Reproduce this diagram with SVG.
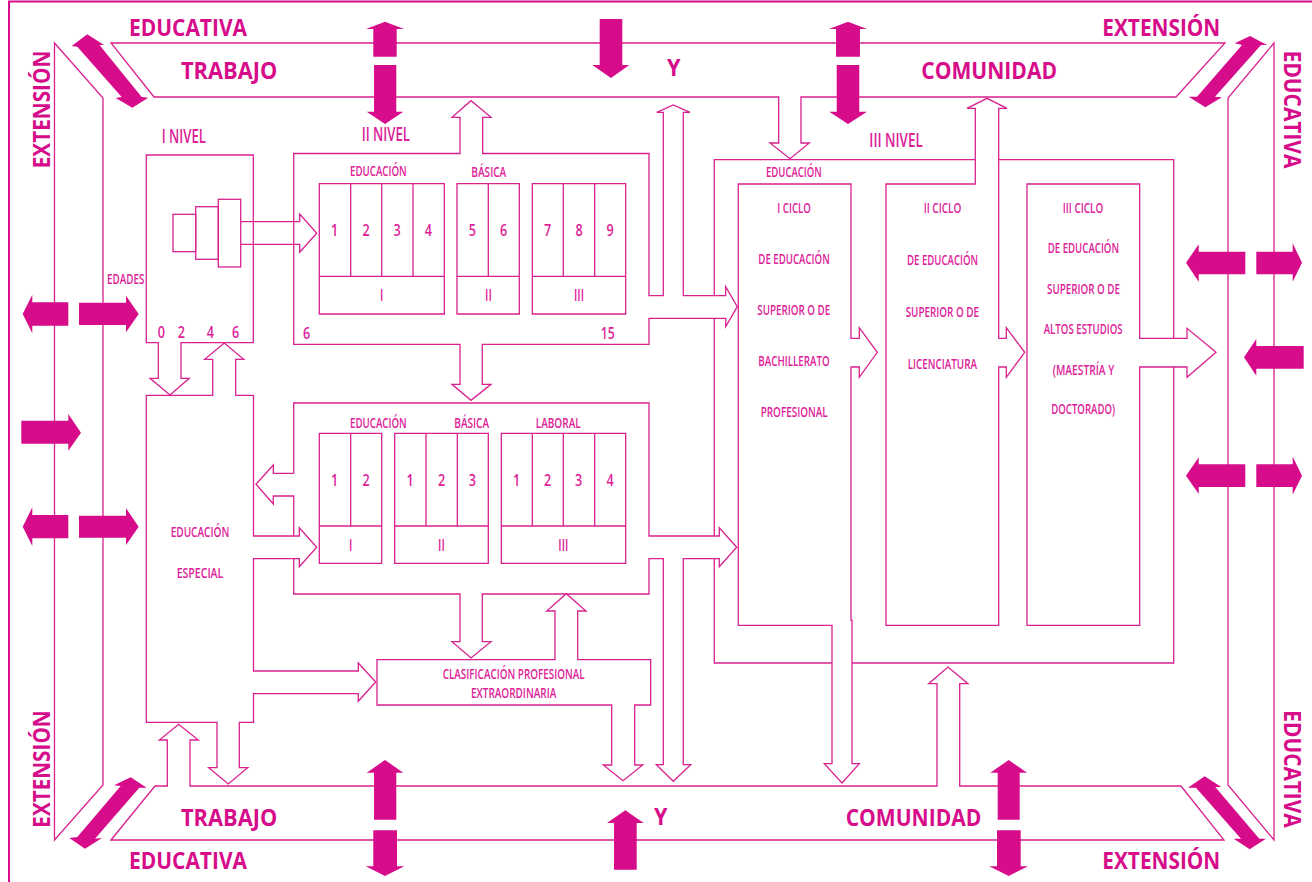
<svg xmlns="http://www.w3.org/2000/svg" width="1312" height="882" viewBox="0 0 1312 882">
<style>
.l{fill:none;stroke:#d9208f;stroke-width:1.3;stroke-linejoin:miter}
.f{fill:none;stroke:#d60c8a;stroke-width:2}
.a{fill:#d60c8a;stroke:none}
text{font-family:"Open Sans","Liberation Sans",sans-serif;fill:#dd2298}
.s{font-size:14.5px;font-weight:600}
.n{font-size:15.5px;font-weight:600}
.h{font-size:19px;font-weight:600}
.b{font-size:23px;font-weight:700;fill:#d60c8a}
</style>
<rect width="1312" height="882" fill="#fff"/>
<g id="connectors">
<path class="f" d="M9 882V1.5H1312"/>
<path class="l" d="M111 43H1225L1176 97H801V143H809.3L790 158.7L770 143H778.7V97H154Z"/>
<path class="l" d="M54.5 43L103 98V785L54.5 840Z"/>
<path class="l" d="M1274 43L1228 98V785L1274 840Z"/>
<path class="l" d="M111 840L155 786H167.3V740H159.3L178.7 724.3L198.3 740H190V786H937V683.7H928.7L948 667L968 683.7H959.7V786H1181L1224 840Z"/>
<path class="l" d="M240.7 221.7H299.7V214L316.7 233.3L299.7 252.3V244.3H240.7"/>
<path class="a" d="M87.3 34.3L104 45H99.5L141.7 97L148.3 97.7L132.3 107.7L115.7 98L121.7 97L77.3 46.7L71.7 46Z"/>
<path class="a" d="M1250 36L1267 45H1261L1215 96.7L1222 97.3L1205.3 107.3L1188.7 96.7H1197L1242 45L1234.7 43.3Z"/>
<path class="a" d="M130.7 777.3L146.7 787.7H139.3L95 838.7L102 838L85 848.7L69.3 838L77.3 837L120.7 786L114 785.3Z"/>
<path class="a" d="M1204.7 776.3L1221.3 787H1215.3L1259.3 838.7H1266L1249.7 849.3L1233.7 838.7H1241L1196 787.7H1188Z"/>
<path class="a" d="M385 21.7L404 29H396.7V56.7H373.3V29H366Z"/>
<path class="a" d="M374 65H396.3V111.7H403.3L385 124L366.7 111.7H374Z"/>
<path class="a" d="M599.7 19H622.3V65H629.3L611 78L592.3 65H599.7Z"/>
<path class="a" d="M848 21.7L867 29H860V56.7H836V29H829Z"/>
<path class="a" d="M836.7 65H859.3V111.7H867L848 124L829.3 111.7H836.7Z"/>
<path class="a" d="M22.7 314L32.3 294.7V302.3H68.3V325.7H32.3V333.3Z"/>
<path class="a" d="M79 302.7H126V295.7L138.7 314L126 332.3V325H79Z"/>
<path class="a" d="M21.3 420.7H68.3V414L81 432.7L68.3 450.7V443.7H21.3Z"/>
<path class="a" d="M22.7 526.7L32.3 507.3V515H68.3V538.3H32.3V546Z"/>
<path class="a" d="M79 515.7H126V508.3L138.7 526.7L126 545V537.7H79Z"/>
<path class="a" d="M1186 262.7L1198.7 244.3V251.7H1245.3V274.3H1198.7V281.7Z"/>
<path class="a" d="M1256.3 251.7H1292.7V243.3L1302 262.7L1292.7 281.7V274.3H1256.3Z"/>
<path class="a" d="M1244 357.3L1256.3 339V346H1303.7V368.7H1256.3V375.7Z"/>
<path class="a" d="M1186 475.7L1198.7 457.3V464.3H1245.3V487H1198.7V494Z"/>
<path class="a" d="M1256.3 464.3H1292.7V456.7L1302 475.7L1292.7 494.7V487H1256.3Z"/>
<path class="a" d="M385 760L403.3 772.7H396.3V819.7H374V772.7H366.7Z"/>
<path class="a" d="M373.3 830.3H397V866.3H404.3L385 876L365.7 866.3H373.3Z"/>
<path class="a" d="M625.3 810.3L643.7 823H636.7V869.7H614V823H607Z"/>
<path class="a" d="M1008.7 760L1027 772.7H1019.7V819.7H997.7V772.7H990.3Z"/>
<path class="a" d="M997 830.3H1020.7V866.3H1028L1008.7 876L989.3 866.3H997Z"/>
</g>
<g id="band-labels">
<text class="b" x="129" y="35.7" textLength="118" lengthAdjust="spacingAndGlyphs">EDUCATIVA</text>
<text class="b" x="181" y="79.3" textLength="96.3" lengthAdjust="spacingAndGlyphs">TRABAJO</text>
<text class="b" x="667" y="76" textLength="13.5" lengthAdjust="spacingAndGlyphs">Y</text>
<text class="b" x="921.3" y="78.7" textLength="135.7" lengthAdjust="spacingAndGlyphs">COMUNIDAD</text>
<text class="b" x="1102.3" y="35.7" textLength="118" lengthAdjust="spacingAndGlyphs">EXTENSIÓN</text>
<text class="b" transform="translate(50 168.3) rotate(-90)" textLength="117.6" lengthAdjust="spacingAndGlyphs">EXTENSIÓN</text>
<text class="b" transform="translate(1284.3 50.7) rotate(90)" textLength="117.6" lengthAdjust="spacingAndGlyphs">EDUCATIVA</text>
<text class="b" transform="translate(50 827.7) rotate(-90)" textLength="117.4" lengthAdjust="spacingAndGlyphs">EXTENSIÓN</text>
<text class="b" transform="translate(1284.3 710.3) rotate(90)" textLength="117.4" lengthAdjust="spacingAndGlyphs">EDUCATIVA</text>
<text class="b" x="181" y="826" textLength="96.3" lengthAdjust="spacingAndGlyphs">TRABAJO</text>
<text class="b" x="129" y="869.3" textLength="118" lengthAdjust="spacingAndGlyphs">EDUCATIVA</text>
<text class="b" x="654" y="825.3" textLength="13.5" lengthAdjust="spacingAndGlyphs">Y</text>
<text class="b" x="845.7" y="826" textLength="135.6" lengthAdjust="spacingAndGlyphs">COMUNIDAD</text>
<text class="b" x="1102.3" y="868.7" textLength="118" lengthAdjust="spacingAndGlyphs">EXTENSIÓN</text>
</g>
<g id="nivel-1">
<path class="l" d="M146.3 155H253.3V342.7H181V378.3H189.3L170 395L150 378.3H158.3V342.7H146.3Z"/>
<rect class="l" x="173" y="214.3" width="22.7" height="37.4"/>
<rect class="l" x="195.7" y="206.7" width="22.6" height="52.6"/>
<rect class="l" x="218.3" y="199.3" width="22.4" height="67.7"/>
<text class="h" x="161.7" y="142.7" textLength="44.3" lengthAdjust="spacingAndGlyphs">I NIVEL</text>
<text class="s" x="107" y="284" textLength="37.3" lengthAdjust="spacingAndGlyphs">EDADES</text>
<text class="n" x="157.7" y="338" textLength="7.2" lengthAdjust="spacingAndGlyphs">0</text>
<text class="n" x="177.7" y="338" textLength="7.2" lengthAdjust="spacingAndGlyphs">2</text>
<text class="n" x="206.7" y="338" textLength="7.2" lengthAdjust="spacingAndGlyphs">4</text>
<text class="n" x="232.1" y="338" textLength="7.2" lengthAdjust="spacingAndGlyphs">6</text>
</g>
<g id="educacion-especial">
<path class="l" d="M146.3 395.3H212.7V359.3H204.7L224.3 343L243.7 359.3H235.7V395.3H253.5V536H299.3V527.7L316.7 547.3L299.3 566.7V558.7H253.5V671H358.3V663L375.7 682L358.3 701.3V693.7H253.5V722.3H239.3V767.7H247.7L228.3 784L208.7 767.7H217V722.3H146.3Z"/>
<text class="s" x="170.7" y="536.7" textLength="58.6" lengthAdjust="spacingAndGlyphs">EDUCACIÓN</text>
<text class="s" x="176.7" y="577.7" textLength="46.6" lengthAdjust="spacingAndGlyphs">ESPECIAL</text>
</g>
<g id="nivel-2-superior">
<path class="l" d="M293.7 153.5H460V117.3H452L471 100.7L491 117.3H482.7V153.5H649V295.7H663.3V112.3H656.7L673.3 105L690 112.3H683.3V295.7H725.7V286.7L737.3 306.7L725.7 326.7V318.3H649V344.3H482.3V384.3H491L471 400.3L452 384.3H460V344.3H293.7Z"/>
<path class="l" d="M319.3 183.7H444.3V314H319.3ZM319.3 276.3H444.3M350.7 183.7V276.3M381.7 183.7V276.3M413 183.7V276.3"/>
<path class="l" d="M457 183.7H519.3V314H457ZM457 276.3H519.3M488.3 183.7V276.3"/>
<path class="l" d="M532.3 183.7H625.7V314H532.3ZM532.3 276.3H625.7M563.3 183.7V276.3M594.7 183.7V276.3"/>
<text class="h" x="361.7" y="140.7" textLength="48.3" lengthAdjust="spacingAndGlyphs">II NIVEL</text>
<text class="s" x="350" y="175.7" textLength="56.7" lengthAdjust="spacingAndGlyphs">EDUCACIÓN</text>
<text class="s" x="471.3" y="176.7" textLength="35" lengthAdjust="spacingAndGlyphs">BÁSICA</text>
<text class="n" x="331.1" y="236" textLength="7.2" lengthAdjust="spacingAndGlyphs">1</text>
<text class="n" x="362.4" y="236" textLength="7.2" lengthAdjust="spacingAndGlyphs">2</text>
<text class="n" x="393.4" y="236" textLength="7.2" lengthAdjust="spacingAndGlyphs">3</text>
<text class="n" x="424.7" y="236" textLength="7.2" lengthAdjust="spacingAndGlyphs">4</text>
<text class="n" x="468.7" y="236" textLength="7.2" lengthAdjust="spacingAndGlyphs">5</text>
<text class="n" x="499.9" y="236" textLength="7.2" lengthAdjust="spacingAndGlyphs">6</text>
<text class="n" x="544.1" y="236" textLength="7.2" lengthAdjust="spacingAndGlyphs">7</text>
<text class="n" x="575.4" y="236" textLength="7.2" lengthAdjust="spacingAndGlyphs">8</text>
<text class="n" x="606.4" y="236" textLength="7.2" lengthAdjust="spacingAndGlyphs">9</text>
<text class="n" x="380" y="301" textLength="3.4" lengthAdjust="spacingAndGlyphs">I</text>
<text class="n" x="485" y="301" textLength="6.8" lengthAdjust="spacingAndGlyphs">II</text>
<text class="n" x="574" y="301" textLength="10" lengthAdjust="spacingAndGlyphs">III</text>
<text class="n" x="303" y="339" textLength="7.2" lengthAdjust="spacingAndGlyphs">6</text>
<text class="n" x="600.7" y="339.3" textLength="14" lengthAdjust="spacingAndGlyphs">15</text>
</g>
<g id="nivel-2-inferior">
<path class="l" d="M293.7 473.3V403H649V536H719.3V527.7L736.7 547.3L719.3 566.7V558.7H683.3V764.7H690.7L673.3 781.3L656.3 764.7H663.3V558.7H649V594H482.3V641.7H491L471 658L452 641.7H460V594H293.7V558.7M293.7 536V496H273.3V504L256 484.3L273.3 465V473.3H293.7"/>
<path class="l" d="M319.3 433.3H381.7V563.3H319.3ZM319.3 526H381.7M350.7 433.3V526"/>
<path class="l" d="M394.7 433.3H488.3V563.3H394.7ZM394.7 526H488.3M426 433.3V526M457.3 433.3V526"/>
<path class="l" d="M501.3 433.3H625.7V563.3H501.3ZM501.3 526H625.7M532.3 433.3V526M563.3 433.3V526M594.7 433.3V526"/>
<text class="s" x="350" y="427.7" textLength="56.7" lengthAdjust="spacingAndGlyphs">EDUCACIÓN</text>
<text class="s" x="454.3" y="427.7" textLength="34.7" lengthAdjust="spacingAndGlyphs">BÁSICA</text>
<text class="s" x="535.7" y="427.7" textLength="45" lengthAdjust="spacingAndGlyphs">LABORAL</text>
<text class="n" x="331.1" y="486" textLength="7.2" lengthAdjust="spacingAndGlyphs">1</text>
<text class="n" x="362.4" y="486" textLength="7.2" lengthAdjust="spacingAndGlyphs">2</text>
<text class="n" x="406.4" y="486" textLength="7.2" lengthAdjust="spacingAndGlyphs">1</text>
<text class="n" x="437.9" y="486" textLength="7.2" lengthAdjust="spacingAndGlyphs">2</text>
<text class="n" x="468.7" y="486" textLength="7.2" lengthAdjust="spacingAndGlyphs">3</text>
<text class="n" x="513.1" y="486" textLength="7.2" lengthAdjust="spacingAndGlyphs">1</text>
<text class="n" x="544.1" y="486" textLength="7.2" lengthAdjust="spacingAndGlyphs">2</text>
<text class="n" x="575.1" y="486" textLength="7.2" lengthAdjust="spacingAndGlyphs">3</text>
<text class="n" x="606.4" y="486" textLength="7.2" lengthAdjust="spacingAndGlyphs">4</text>
<text class="n" x="349" y="550.7" textLength="3.4" lengthAdjust="spacingAndGlyphs">I</text>
<text class="n" x="438" y="550.7" textLength="6.8" lengthAdjust="spacingAndGlyphs">II</text>
<text class="n" x="558.3" y="550.7" textLength="10" lengthAdjust="spacingAndGlyphs">III</text>
</g>
<g id="clasificacion">
<path class="l" d="M377 659.7H555V611H546.7L566.3 593.7L586 611H577.7V659.7H650.7V705H634.7V765H642.7L623 780.7L603.3 765H611.7V705H377Z"/>
<text class="s" x="442.7" y="678.7" textLength="142" lengthAdjust="spacingAndGlyphs">CLASIFICACIÓN PROFESIONAL</text>
<text class="s" x="471" y="697.7" textLength="85.3" lengthAdjust="spacingAndGlyphs">EXTRAORDINARIA</text>
</g>
<g id="nivel-3">
<path class="l" d="M714.3 295.7V159.7H975.3M998.7 159.7H1173.7V338.3M1173.7 367V663H852M832 663H714.3V558.7M714.3 536V318.3"/>
<text class="h" x="869.3" y="146.7" textLength="53.4" lengthAdjust="spacingAndGlyphs">III NIVEL</text>
<text class="s" x="766" y="176.7" textLength="55.7" lengthAdjust="spacingAndGlyphs">EDUCACIÓN</text>
</g>
<g id="ciclo-1">
<path class="l" d="M738.3 184H851V338.3H859.3V327.7L877.3 352.3L859.3 377.3V367H851V620.3L852 620.3V763.7H859.3L842 783L824.3 763.7H832V625.3H738.3Z"/>
<text class="s" x="777.3" y="212.7" textLength="33.7" lengthAdjust="spacingAndGlyphs">I CICLO</text>
<text class="s" x="758.3" y="264" textLength="71.4" lengthAdjust="spacingAndGlyphs">DE EDUCACIÓN</text>
<text class="s" x="757.3" y="315" textLength="73" lengthAdjust="spacingAndGlyphs">SUPERIOR O DE</text>
<text class="s" x="758.3" y="366" textLength="71.4" lengthAdjust="spacingAndGlyphs">BACHILLERATO</text>
<text class="s" x="760.7" y="417" textLength="67" lengthAdjust="spacingAndGlyphs">PROFESIONAL</text>
</g>
<g id="ciclo-2">
<path class="l" d="M886 184H975.3V108.3H967L987 98.3L1007 108.3H998.7V338.3H1006.3V327.7L1024.7 352.3L1006.3 377.3V367H998.7V625.3H886Z"/>
<text class="s" x="923.7" y="212.7" textLength="37.6" lengthAdjust="spacingAndGlyphs">II CICLO</text>
<text class="s" x="907" y="265" textLength="71" lengthAdjust="spacingAndGlyphs">DE EDUCACIÓN</text>
<text class="s" x="905.7" y="316.7" textLength="73.3" lengthAdjust="spacingAndGlyphs">SUPERIOR O DE</text>
<text class="s" x="907.7" y="368.7" textLength="69.3" lengthAdjust="spacingAndGlyphs">LICENCIATURA</text>
</g>
<g id="ciclo-3">
<path class="l" d="M1027 184H1139.7V338.3H1187V328.3L1216 352.3L1187 377.3V367H1139.7V625.3H1027Z"/>
<text class="s" x="1062.7" y="212.7" textLength="40.6" lengthAdjust="spacingAndGlyphs">III CICLO</text>
<text class="s" x="1047.7" y="253" textLength="71.3" lengthAdjust="spacingAndGlyphs">DE EDUCACIÓN</text>
<text class="s" x="1047" y="294" textLength="73" lengthAdjust="spacingAndGlyphs">SUPERIOR O DE</text>
<text class="s" x="1043.7" y="334" textLength="79" lengthAdjust="spacingAndGlyphs">ALTOS ESTUDIOS</text>
<text class="s" x="1052.7" y="374.7" textLength="61.6" lengthAdjust="spacingAndGlyphs">(MAESTRÍA Y</text>
<text class="s" x="1051.3" y="414.3" textLength="63.7" lengthAdjust="spacingAndGlyphs">DOCTORADO)</text>
</g>
</svg>
